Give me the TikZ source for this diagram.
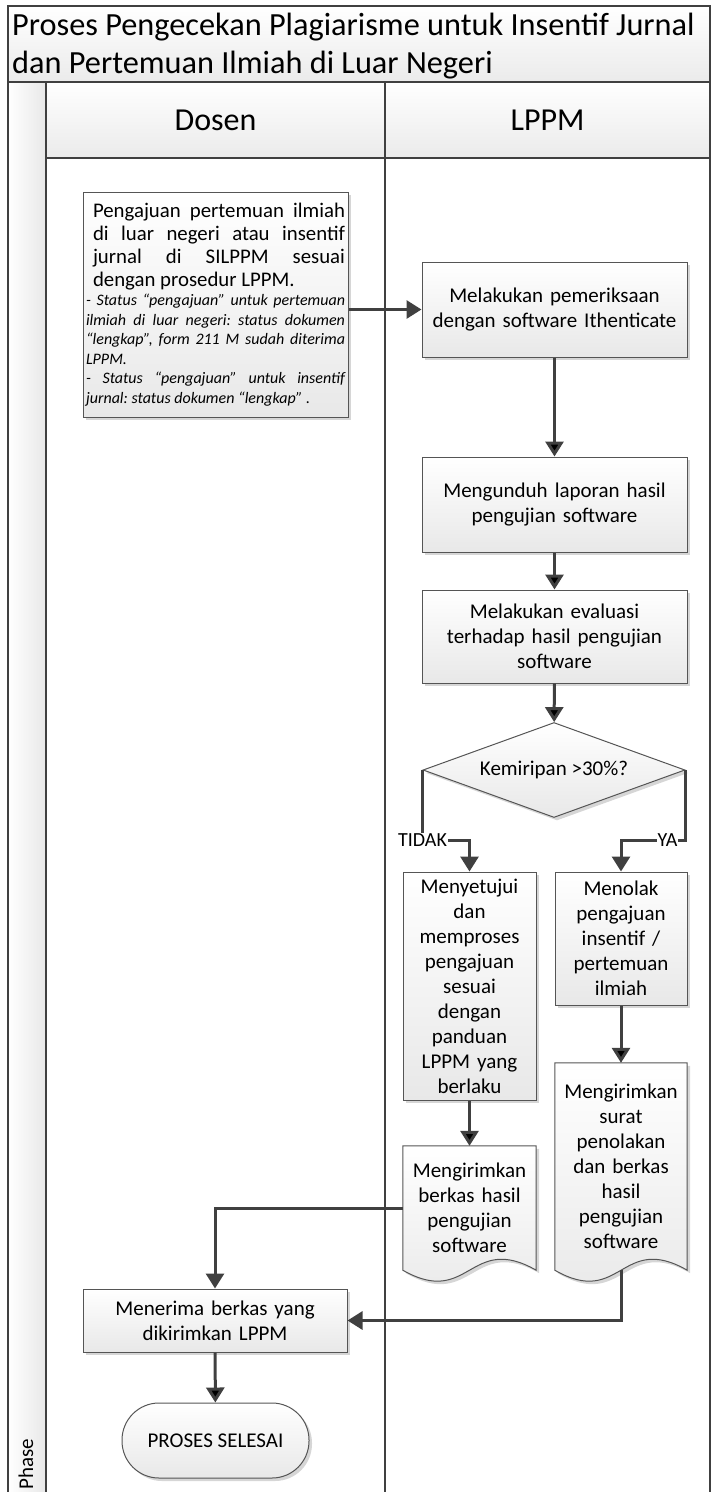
\documentclass[tikz,border=0pt]{standalone}
\usepackage{fontspec}
\setmainfont{Carlito}
\usetikzlibrary{shapes.geometric,arrows.meta,shadows,calc,backgrounds}
\definecolor{garis}{HTML}{404040}
\definecolor{tepi}{HTML}{555555}
\frenchspacing

% bentuk dokumen (bawah bergelombang) di sekitar node
\newcommand\dokumen[1]{%
  \path[doc fill] (#1.north west) -- (#1.north east) -- (#1.south east)
    .. controls ($(#1.south west)!0.5!(#1.south east)+(0,-38)$)
    and ($(#1.south west)!0.5!(#1.south east)+(0,38)$) .. (#1.south west) -- cycle;}

\begin{document}
\begin{tikzpicture}[x=1pt, y=-1pt,
    lane/.style={draw=garis, line width=2pt},
    bayang/.style={general shadow={fill=black!16, shadow xshift=3pt, shadow yshift=-3pt}},
    isi/.style={top color=white, bottom color=black!9},
    proses/.style={rectangle, draw=tepi, line width=1pt, isi, bayang,
        font=\fontsize{21}{25}\selectfont, align=center, inner sep=6pt},
    keputusan/.style={diamond, draw=tepi, line width=1pt, isi, bayang, aspect=2.76,
        minimum width=262pt, minimum height=95pt, inner sep=1pt,
        font=\fontsize{21}{25}\selectfont},
    akhir/.style={rectangle, rounded corners=37pt, draw=tepi, line width=1pt, isi, bayang,
        minimum width=187pt, minimum height=75pt, font=\fontsize{21}{25}\selectfont},
    doc node/.style={rectangle, text width=121pt, inner sep=6pt, align=center,
        font=\fontsize{21}{25}\selectfont},
    doc fill/.style={draw=tepi, line width=1pt, isi, bayang},
    judul/.style={anchor=base west, inner sep=0pt, font=\fontsize{32.3}{38}\selectfont},
    kepala/.style={font=\fontsize{32}{38}\selectfont},
    cabang/.style={fill=white, inner sep=1pt, font=\fontsize{20}{24}\selectfont},
    panah/.style={draw=garis, line width=3pt, -{Triangle[length=15pt,width=18pt]}}]

  \useasboundingbox (0,0) rectangle (712,1492);

  % kolom dan judul
  \shade[top color=white, bottom color=black!8] (8,6) rectangle (710,82);
  \shade[top color=white, bottom color=black!8] (46,82) rectangle (710,158);
  \shade[left color=white, right color=black!9] (8,82) rectangle (46,1496);
  \draw[lane] (8,1496) -- (8,6) -- (710,6) -- (710,1496);
  \draw[lane] (8,82) -- (710,82);
  \draw[lane] (46,158) -- (710,158);
  \draw[lane] (46,82) -- (46,1496);
  \draw[lane] (385,82) -- (385,1496);

  \node[judul] (judul1) at (12,35) {Proses Pengecekan Plagiarisme untuk Insentif Jurnal};
  \node[judul] (judul2) at (12,73) {dan Pertemuan Ilmiah di Luar Negeri};
  \node[kepala] (dosen) at (215.5,120) {Dosen};
  \node[kepala] (lppm) at (547.5,120) {LPPM};
  \node[rotate=90, anchor=base west, inner sep=0pt, font=\fontsize{21}{25}\selectfont] (fase) at (33,1490) {Phase};

  % langkah
  \node[proses, text width=259pt, inner xsep=3pt, minimum height=225pt, align=justify] (aju) at (215.5,304.5)
    {{\leftskip=7pt\rightskip=0pt\fontsize{20.8}{23}\selectfont Pengajuan pertemuan ilmiah\linebreak
      di luar negeri atau insentif\linebreak jurnal di SILPPM sesuai\linebreak
      dengan prosedur LPPM.\par}
     {\itshape\fontsize{16}{19.5}\selectfont - Status “pengajuan” untuk pertemuan\linebreak
      ilmiah di luar negeri: status dokumen\linebreak
      “lengkap”, form 211 M sudah diterima\linebreak LPPM.\par
      - Status “pengajuan” untuk insentif\linebreak jurnal: status dokumen “lengkap” .\par}};
  \node[proses, text width=253pt, minimum height=95pt] (cek) at (554.5,309.5)
    {Melakukan pemeriksaan\\dengan software Ithenticate};
  \node[proses, text width=253pt, minimum height=95pt] (unduh) at (554.5,504.5)
    {Mengunduh laporan hasil\\pengujian software};
  \node[proses, text width=253pt, minimum height=93pt] (evaluasi) at (554.5,636.5)
    {Melakukan evaluasi\\terhadap hasil pengujian\\software};
  \node[keputusan] (mirip) at (554,770) {Kemiripan >30\%?};
  \node[proses, text width=121pt, minimum height=228pt, inner ysep=1pt] (setuju) at (469.5,986)
    {Menyetujui\\dan\\memproses\\pengajuan\\sesuai\\dengan\\panduan\\LPPM yang\\berlaku};
  \node[proses, text width=120pt, minimum height=133pt] (tolak) at (621,938.5)
    {Menolak\\pengajuan\\insentif /\\pertemuan\\ilmiah};
  \node[doc node, minimum height=124pt] (berkas) at (469.5,1208)
    {Mengirimkan\\berkas hasil\\pengujian\\software};
  \node[doc node, text width=120pt, minimum height=207pt] (surat) at (621,1166.5)
    {Mengirimkan\\surat\\penolakan\\dan berkas\\hasil\\pengujian\\software};
  \begin{scope}[on background layer]
    \dokumen{berkas}
    \dokumen{surat}
  \end{scope}
  \node[proses, text width=252pt, minimum height=63pt] (terima) at (215,1320.5)
    {Menerima berkas yang\\dikirimkan LPPM};
  \node[akhir] (selesai) at (215.5,1440.5) {PROSES SELESAI};

  % alur
  \draw[panah] (aju.east |- cek.west) -- (cek.west);
  \path[panah] (cek) edge (unduh)
    (unduh) edge (evaluasi)
    (evaluasi) edge (mirip)
    (setuju) edge (berkas)
    (tolak) edge (surat)
    (terima) edge (selesai);
  \draw[panah] (mirip.west) -- ++(0,70) node[cabang] (tidak) {TIDAK} -| (setuju.north);
  \draw[panah] (mirip.east) -- ++(0,70) -| node[cabang, pos=0.14] (ya) {YA} (tolak.north);
  \draw[panah] (berkas.west) -| (terima.north);
  \draw[panah] (surat.south) |- (terima.east);
\end{tikzpicture}
\end{document}
